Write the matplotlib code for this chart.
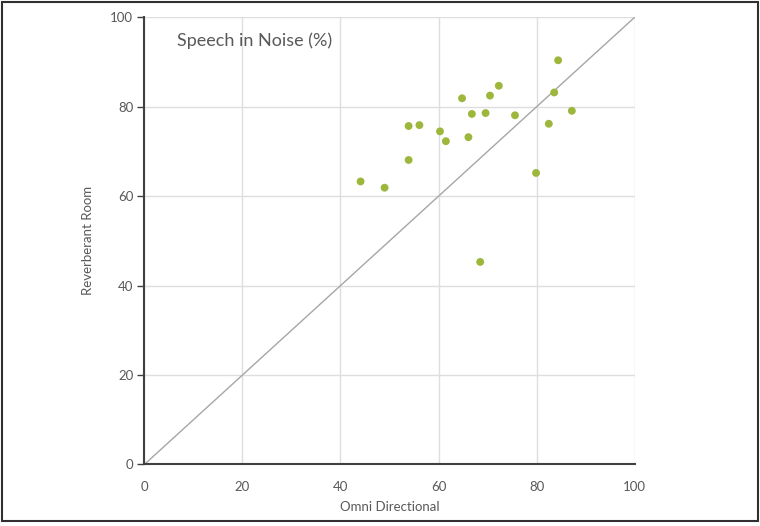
import matplotlib as mpl
mpl.use('Agg')
import matplotlib.pyplot as plt
from matplotlib.patches import Rectangle

# Omni Directional vs Reverberant Room scores (%)
omni = [84.4, 72.3, 70.5, 64.8, 83.6, 87.2, 66.8, 69.6, 75.6, 82.5,
        53.9, 56.1, 60.3, 61.5, 66.1, 53.9, 44.1, 49.0, 79.9, 68.5]
reverb = [90.4, 84.7, 82.5, 81.9, 83.2, 79.1, 78.4, 78.6, 78.1, 76.2,
          75.7, 75.9, 74.5, 72.3, 73.2, 68.1, 63.3, 61.9, 65.2, 45.3]
ticks = [0, 20, 40, 60, 80, 100]

plt.rcParams['font.family'] = ['Lato', 'DejaVu Sans']
text_col = '#595959'

fig = plt.figure(figsize=(7.6, 5.26), dpi=100)
ax = fig.add_axes([0.190, 0.117, 0.645, 0.850])

ax.plot([0, 100], [0, 100], color='#a6a6a6', lw=1.0, zorder=2)
ax.scatter(omni, reverb, s=32, color='#9cb73c', edgecolors='none', zorder=3)

ax.set_xlim(0, 100)
ax.set_ylim(0, 100)
ax.set_xticks(ticks)
ax.set_yticks(ticks)
ax.grid(True, color='#dedede', lw=1.0)
ax.set_axisbelow(True)

for s in ['top', 'right']:
    ax.spines[s].set_visible(False)
for s in ['left', 'bottom']:
    ax.spines[s].set_color('#404040')
    ax.spines[s].set_linewidth(1.5)

ax.tick_params(axis='y', length=5, width=1, color='#404040', labelsize=9.5,
               labelcolor=text_col, pad=3)
ax.tick_params(axis='x', length=0, labelsize=9.5, labelcolor=text_col, pad=12)

ax.set_xlabel('Omni Directional', fontsize=9.5, color=text_col, labelpad=6)
ax.set_ylabel('Reverberant Room', fontsize=9.5, color=text_col, labelpad=12)

ax.text(0.066, 0.948, 'Speech in Noise (%)', transform=ax.transAxes,
        fontsize=13, color=text_col, va='center', ha='left')

# outer frame round the whole picture
fig.patches.append(Rectangle((0.003, 0.009), 0.994, 0.988, transform=fig.transFigure,
                             fill=False, edgecolor='#303030', lw=1.5))

fig.savefig('out.png', dpi=100)
